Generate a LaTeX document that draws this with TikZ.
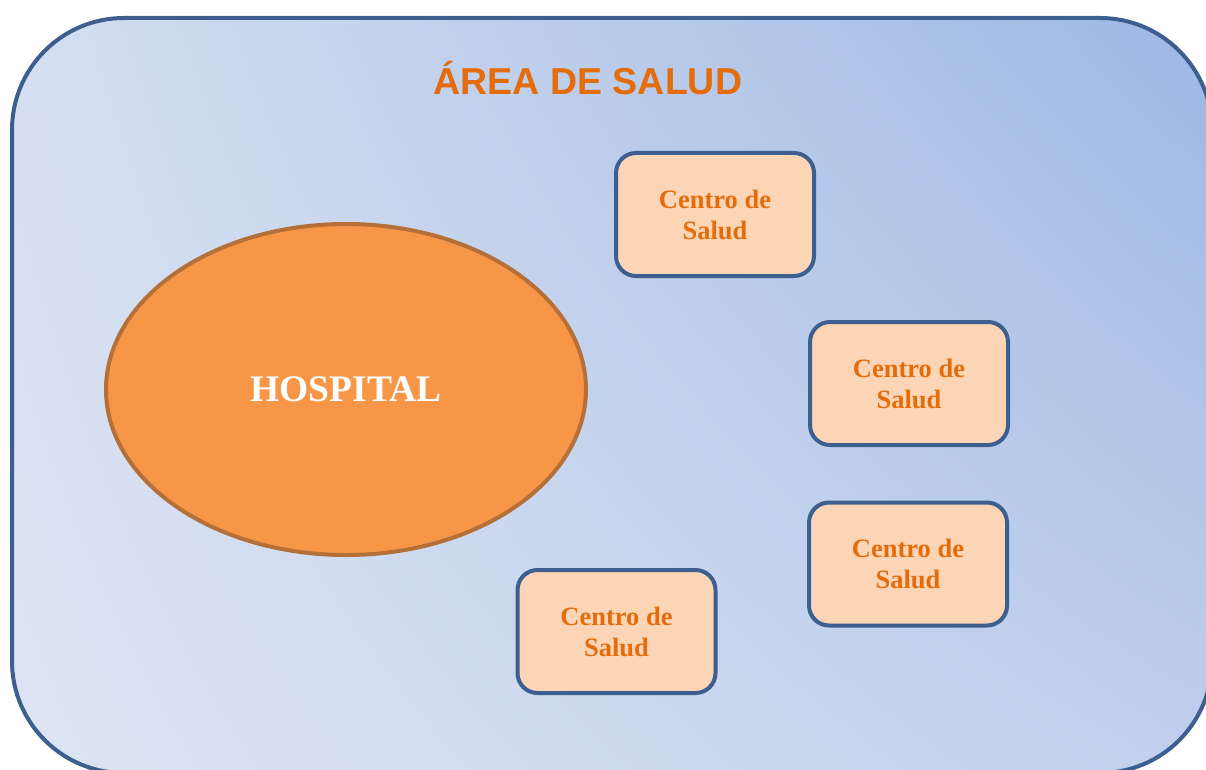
\documentclass[tikz,border=0pt]{standalone}
\usepackage{fontspec}
\setmainfont{Liberation Serif}
\newfontfamily\titlefont{Liberation Sans}
\usetikzlibrary{shapes.geometric,shadings}
\definecolor{frameblue}{HTML}{3C5F8F}
\definecolor{txtorange}{HTML}{E46C0A}
\definecolor{boxfill}{HTML}{FBD5B5}
\definecolor{hospfill}{HTML}{F79646}
\definecolor{hospline}{HTML}{B5703A}
\definecolor{bgUL}{HTML}{D5DFF1}
\definecolor{bgUR}{HTML}{9CB7E4}
\definecolor{bgLL}{HTML}{DDE5F3}
\definecolor{bgLR}{HTML}{C0CFEC}
\tikzset{
  centro/.style={draw=frameblue, line width=4pt, fill=boxfill, rounded corners=20pt,
    minimum width=198pt, minimum height=123pt, inner sep=0pt, align=center,
    font=\fontsize{26.5}{31}\selectfont\bfseries, text=txtorange},
  hosp/.style={ellipse, draw=hospline, line width=4pt, fill=hospfill,
    minimum width=480pt, minimum height=331pt, inner sep=0pt,
    font=\fontsize{37.5}{44}\selectfont\bfseries, text=white},
  areatitle/.style={font=\titlefont\fontsize{37.5}{44}\selectfont\bfseries, text=txtorange, inner sep=0pt}
}
\begin{document}
\begin{tikzpicture}[x=1pt,y=-1pt]
\useasboundingbox (0,0) rectangle (1206,770);
\clip (0,0) rectangle (1206,770);
\path[shade, upper left=bgUL, upper right=bgUR, lower left=bgLL, lower right=bgLR,
  draw=frameblue, line width=4pt, rounded corners=112pt] (12,18) rectangle (1212,773);
\node[areatitle] (title) at (588,78) {ÁREA DE SALUD};
\node[hosp] (hospital) at (346,389.5) {HOSPITAL};
\node[centro] (c1) at (715,214.5) {Centro de\\Salud};
\node[centro] (c2) at (909,383.5) {Centro de\\Salud};
\node[centro] (c3) at (908,564) {Centro de\\Salud};
\node[centro] (c4) at (616.5,631.5) {Centro de\\Salud};
\end{tikzpicture}
\end{document}
